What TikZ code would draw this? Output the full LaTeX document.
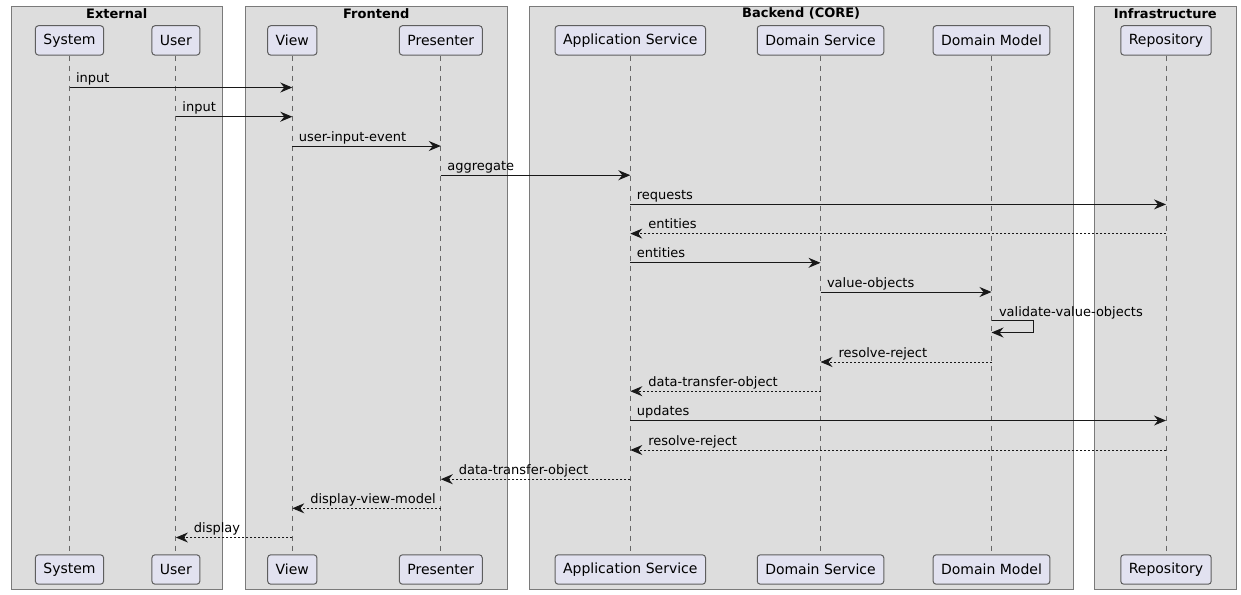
\documentclass[tikz,border=0pt]{standalone}
\usepackage{fontspec}
\setmainfont{DejaVu Sans}
\usetikzlibrary{arrows.meta}

\definecolor{grpfill}{HTML}{DDDDDD}
\definecolor{grpline}{HTML}{7A7A7A}
\definecolor{partfill}{HTML}{E2E2F0}
\definecolor{partline}{HTML}{5E5E5E}
\definecolor{lifeline}{HTML}{666666}
\definecolor{msgline}{HTML}{181818}

\tikzset{every picture/.style={line width=0.75pt}}
\tikzset{
  grp/.style={draw=grpline, fill=grpfill},
  grptitle/.style={inner sep=0pt, font=\fontsize{9.75pt}{11pt}\selectfont\bfseries},
  part/.style={draw=partline, fill=partfill, rounded corners=2.25pt, inner xsep=6pt, inner ysep=0pt,
    minimum height=22pt, font=\fontsize{10.5pt}{12pt}\selectfont},
  life/.style={draw=lifeline, dash pattern={on 3.75pt off 3.75pt}},
  msg/.style={draw=msgline, -{Stealth[length=9pt,width=7.5pt,inset=3pt]}},
  reply/.style={msg, dash pattern={on 1.5pt off 1.5pt}},
  lbl/.style={anchor=base west, inner sep=0pt, font=\fontsize{9.75pt}{11pt}\selectfont}
}

\begin{document}
\begin{tikzpicture}[x=0.75pt,y=0.75pt,yscale=-1,xscale=1]
\useasboundingbox (0,0) rectangle (1241,594);

% Boxes
\draw [grp] (11.3,6.3) rectangle (222.3,589);
\draw [grp] (245,6.3) rectangle (507.7,589);
\draw [grp] (529,6.3) rectangle (1073.3,589);
\draw [grp] (1094.5,6.3) rectangle (1236,589);
\node [grptitle] (extT) at (116.8,13.8) {External};
\node [grptitle] (frontT) at (376.3,13.8) {Frontend};
\node [grptitle] (backT) at (801.2,13.8) {Backend (CORE)};
\node [grptitle] (infraT) at (1165.3,13.8) {Infrastructure};

% Participants
\node [part] (sysT) at (69.5,40.4) {System};
\node [part] (userT) at (175.9,40.4) {User};
\node [part] (viewT) at (292.3,40.4) {View};
\node [part] (presT) at (440.8,40.4) {Presenter};
\node [part] (appT) at (630.3,40.4) {Application Service};
\node [part] (dsT) at (820.5,40.4) {Domain Service};
\node [part] (dmT) at (991.5,40.4) {Domain Model};
\node [part] (repoT) at (1166,40.4) {Repository};

\node [part] (sysB) at (69.5,569.5) {System};
\node [part] (userB) at (175.9,569.5) {User};
\node [part] (viewB) at (292.3,569.5) {View};
\node [part] (presB) at (440.8,569.5) {Presenter};
\node [part] (appB) at (630.3,569.5) {Application Service};
\node [part] (dsB) at (820.5,569.5) {Domain Service};
\node [part] (dmB) at (991.5,569.5) {Domain Model};
\node [part] (repoB) at (1166,569.5) {Repository};

% Lifelines
\draw [life] (sysT) -- (sysB);
\draw [life] (userT) -- (userB);
\draw [life] (viewT) -- (viewB);
\draw [life] (presT) -- (presB);
\draw [life] (appT) -- (appB);
\draw [life] (dsT) -- (dsB);
\draw [life] (dmT) -- (dmB);
\draw [life] (repoT) -- (repoB);

% Messages
\draw [msg] (sysT |- 0,87.5) -- (viewT |- 0,87.5);
\path (sysT |- 0,87.5) ++(6,-5) node [lbl] (l1) {input};
\draw [msg] (userT |- 0,116.7) -- (viewT |- 0,116.7);
\path (userT |- 0,116.7) ++(6,-5) node [lbl] (l2) {input};
\draw [msg] (viewT |- 0,146) -- (presT |- 0,146);
\path (viewT |- 0,146) ++(6,-5) node [lbl] (l3) {user-input-event};
\draw [msg] (presT |- 0,175.2) -- (appT |- 0,175.2);
\path (presT |- 0,175.2) ++(6,-5) node [lbl] (l4) {aggregate};
\draw [msg] (appT |- 0,204.4) -- (repoT |- 0,204.4);
\path (appT |- 0,204.4) ++(6,-5) node [lbl] (l5) {requests};
\draw [reply] (repoT |- 0,233.6) -- (appT |- 0,233.6);
\path (appT |- 0,233.6) ++(17.5,-5) node [lbl] (l6) {entities};
\draw [msg] (appT |- 0,262.8) -- (dsT |- 0,262.8);
\path (appT |- 0,262.8) ++(6,-5) node [lbl] (l7) {entities};
\draw [msg] (dsT |- 0,292) -- (dmT |- 0,292);
\path (dsT |- 0,292) ++(6,-5) node [lbl] (l8) {value-objects};
\draw [msg] (dmT |- 0,320.7) -- ++(42,0) |- (dmT |- 0,332.5);
\path (dmT |- 0,320.7) ++(7,-4.5) node [lbl] (l9) {validate-value-objects};
\draw [reply] (dmT |- 0,362) -- (dsT |- 0,362);
\path (dsT |- 0,362) ++(17.5,-5) node [lbl] (l10) {resolve-reject};
\draw [reply] (dsT |- 0,391.2) -- (appT |- 0,391.2);
\path (appT |- 0,391.2) ++(17.5,-5) node [lbl] (l11) {data-transfer-object};
\draw [msg] (appT |- 0,420.5) -- (repoT |- 0,420.5);
\path (appT |- 0,420.5) ++(6,-5) node [lbl] (l12) {updates};
\draw [reply] (repoT |- 0,450) -- (appT |- 0,450);
\path (appT |- 0,450) ++(17.5,-5) node [lbl] (l13) {resolve-reject};
\draw [reply] (appT |- 0,479.2) -- (presT |- 0,479.2);
\path (presT |- 0,479.2) ++(17.5,-5) node [lbl] (l14) {data-transfer-object};
\draw [reply] (presT |- 0,508.3) -- (viewT |- 0,508.3);
\path (viewT |- 0,508.3) ++(17.5,-5) node [lbl] (l15) {display-view-model};
\draw [reply] (viewT |- 0,537.5) -- (userT |- 0,537.5);
\path (userT |- 0,537.5) ++(17.5,-5) node [lbl] (l16) {display};

\end{tikzpicture}
\end{document}
